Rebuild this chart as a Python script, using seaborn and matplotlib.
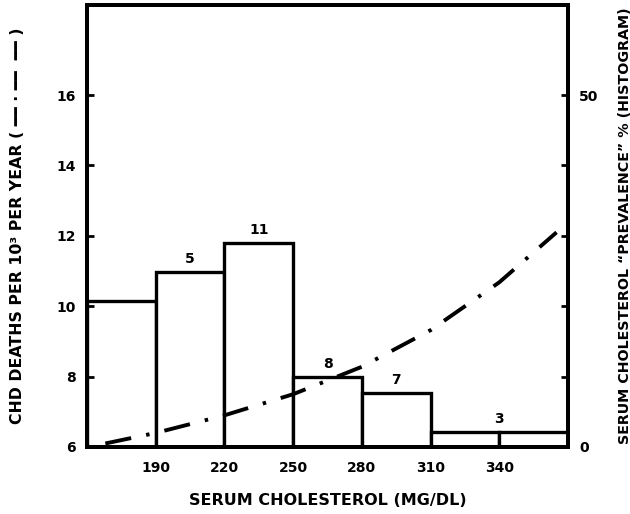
import numpy as np
import pandas as pd
import seaborn as sns
import matplotlib
matplotlib.use("Agg")
import matplotlib.pyplot as plt

# ---- data ----
bin_edges = [160, 190, 220, 250, 280, 310, 340, 370]
prevalence = [20.8, 24.9, 29.0, 10.0, 7.7, 2.2, 2.2]       # % (histogram, right axis)
bar_labels = ["", "5", "11", "8", "7", "3"]                 # numbers printed above bars
label_x = [175, 205, 235, 265, 295, 340]
label_h = [20.8, 24.9, 29.0, 10.0, 7.7, 2.2]
chol = [168, 190, 220, 250, 280, 310, 340, 365]
deaths = [6.1, 6.4, 6.9, 7.5, 8.28, 9.32, 10.68, 12.1]     # CHD deaths per 10^3 per year
x_ticks = [190, 220, 250, 280, 310, 340]
left_ticks = [6, 8, 10, 12, 14, 16]
right_ticks = [0, 10, 20, 30, 40, 50]
right_ticklabels = ["0", "", "", "", "", "50"]

sns.set_style("white")
plt.rcParams["font.family"] = ["DejaVu Sans"]
plt.rcParams["font.weight"] = "bold"
plt.rcParams["text.color"] = "black"
plt.rcParams["axes.labelcolor"] = "black"
plt.rcParams["xtick.color"] = "black"
plt.rcParams["ytick.color"] = "black"
plt.rcParams["lines.scale_dashes"] = False
plt.rcParams["lines.dash_capstyle"] = "butt"

fig = plt.figure(figsize=(6.3, 5.14), dpi=100)
ax1 = fig.add_axes([87/630, 67/514, (568-87)/630, (447-5)/514])
ax2 = ax1.twinx()

bins_mid = [(a + b) / 2 for a, b in zip(bin_edges[:-1], bin_edges[1:])]
hist_df = pd.DataFrame({"x": bins_mid, "w": prevalence})
sns.histplot(data=hist_df, x="x", weights="w", bins=bin_edges, ax=ax2,
             color="white", edgecolor="black", linewidth=2.4, alpha=1)

line_df = pd.DataFrame({"chol": chol, "deaths": deaths})
sns.lineplot(data=line_df, x="chol", y="deaths", ax=ax1, color="black",
             linewidth=2.8)
for ln in ax1.get_lines():
    ln.set_dashes([19, 11, 2.5, 11])
    ln.set_dash_capstyle("butt")

ax1.set_zorder(2)
ax2.set_zorder(1)
ax1.patch.set_visible(False)

ax1.set_xlim(160, 370)
ax1.set_ylim(6, 18.56)
ax2.set_ylim(0, (18.56 - 6) * 5)

for lx, lh, lt in zip(label_x, label_h, bar_labels):
    if lt:
        ax2.text(lx, lh + 0.8, lt, ha="center", va="bottom", fontsize=10,
                 fontweight="bold")

ax1.set_xticks(x_ticks)
ax1.set_yticks(left_ticks)
ax2.set_yticks(right_ticks)
ax2.set_yticklabels(right_ticklabels)

ax1.tick_params(axis="both", direction="in", length=5, width=2, labelsize=10, pad=8)
ax2.tick_params(axis="y", direction="in", length=5, width=2, labelsize=10, pad=8)
ax1.tick_params(axis="x", pad=10)
for lab in ax1.get_xticklabels() + ax1.get_yticklabels() + ax2.get_yticklabels():
    lab.set_fontweight("bold")

for ax in (ax1, ax2):
    for s in ax.spines.values():
        s.set_linewidth(2.8)
        s.set_color("black")

ax1.set_xlabel("SERUM CHOLESTEROL (MG/DL)", fontsize=11.5, fontweight="bold")
ax1.set_ylabel("CHD DEATHS PER 10³ PER YEAR ( ━━ · ━━  ━━ )", fontsize=11.3,
               fontweight="bold")
ax2.set_ylabel("SERUM CHOLESTEROL \u201cPREVALENCE\u201d % (HISTOGRAM)", fontsize=10.3,
               fontweight="bold", rotation=90)
ax2.yaxis.set_label_coords(1.103, 0.5)
ax1.yaxis.set_label_coords(-0.128, 0.5)
ax1.xaxis.set_label_coords(0.5, -0.105)
ax2.set_xlabel("")

fig.savefig("out.png", dpi=100)
